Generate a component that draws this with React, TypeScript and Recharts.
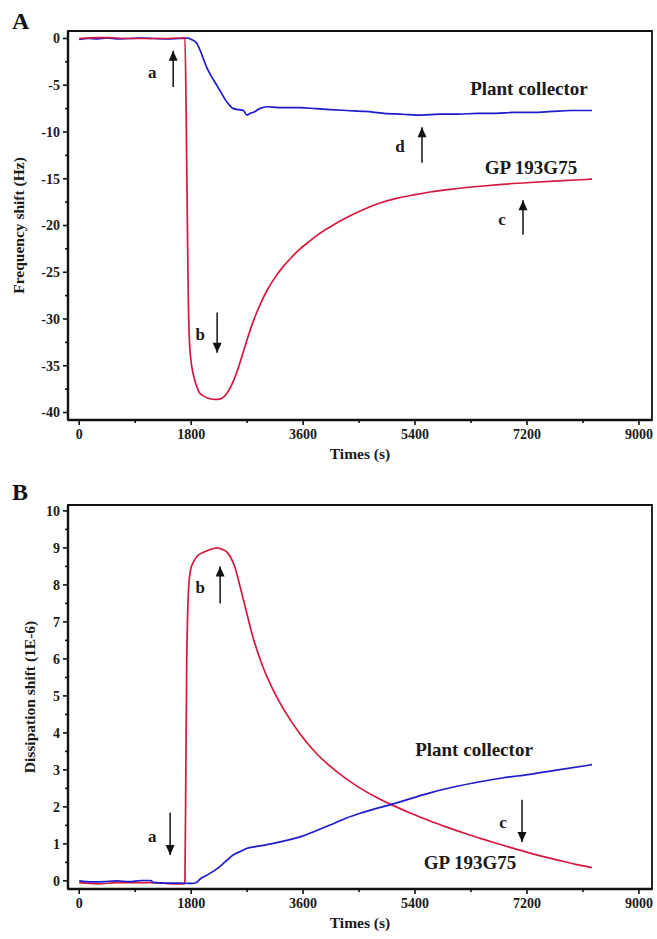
import React from 'react';
import {
  LineChart,
  Line,
  XAxis,
  YAxis,
  ReferenceArea,
  ReferenceLine,
  ReferenceDot,
} from 'recharts';

// time axis ticks (s)
const xTicks = [0, 900, 1800, 2700, 3600, 4500, 5400, 6300, 7200, 8100, 9000];
const xMajor = [0, 1800, 3600, 5400, 7200, 9000];

const freqTicks = [-40, -37.5, -35, -32.5, -30, -27.5, -25, -22.5, -20, -17.5, -15, -12.5, -10, -7.5, -5, -2.5, 0];
const freqMajor = [-40, -35, -30, -25, -20, -15, -10, -5, 0];

const dissTicks = [0, 0.5, 1, 1.5, 2, 2.5, 3, 3.5, 4, 4.5, 5, 5.5, 6, 6.5, 7, 7.5, 8, 8.5, 9, 9.5, 10];
const dissMajor = [0, 1, 2, 3, 4, 5, 6, 7, 8, 9, 10];

// A: frequency shift, plant collector
const freqPlantT = [0, 150, 300, 450, 600, 800, 1000, 1200, 1400, 1600, 1750, 1800, 1890, 1970, 2050, 2130, 2213, 2300, 2374, 2440, 2480, 2560, 2640, 2700, 2750, 2800, 2900, 3020, 3200, 3400, 3552, 3800, 4034, 4300, 4600, 4900, 5200, 5500, 5800, 6100, 6400, 6700, 7000, 7300, 7600, 7900, 8245];
const freqPlantV = [-0.1, 0, -0.05, 0.05, -0.05, 0, 0.05, 0, -0.05, 0, 0.05, -0.1, -0.5, -1.7, -3.1, -4.1, -5.0, -6.0, -6.8, -7.3, -7.5, -7.6, -7.7, -8.2, -8.0, -7.9, -7.5, -7.3, -7.4, -7.4, -7.4, -7.5, -7.6, -7.7, -7.8, -8.0, -8.1, -8.2, -8.1, -8.1, -8.0, -8.0, -7.9, -7.9, -7.8, -7.7, -7.7];

// A: frequency shift, GP 193G75
const freqGpT = [0, 300, 500, 700, 1000, 1400, 1650, 1700, 1720, 1740, 1755, 1765, 1780, 1800, 1830, 1860, 1890, 1925, 1990, 2060, 2150, 2218, 2300, 2370, 2440, 2500, 2560, 2620, 2700, 2780, 2861, 2940, 3020, 3150, 3279, 3400, 3552, 3700, 3825, 4034, 4300, 4600, 4837, 5100, 5400, 5641, 6000, 6445, 6800, 7248, 7700, 8245];
const freqGpV = [0, 0.1, 0.1, 0, 0, 0, 0.05, 0.1, -8, -20, -28, -31, -33.2, -34.6, -35.8, -36.6, -37.2, -37.8, -38.2, -38.45, -38.58, -38.6, -38.45, -38.0, -37.2, -36.3, -35.2, -33.9, -32.2, -30.6, -29.2, -28.0, -26.95, -25.55, -24.4, -23.5, -22.5, -21.7, -21.05, -20.15, -19.15, -18.2, -17.6, -17.1, -16.7, -16.42, -16.1, -15.8, -15.6, -15.4, -15.23, -15.05];

// B: dissipation shift, plant collector
const dissPlantT = [0, 200, 400, 600, 800, 1000, 1150, 1200, 1400, 1600, 1800, 1880, 1945, 2050, 2218, 2350, 2475, 2600, 2700, 2850, 3020, 3300, 3552, 3800, 4034, 4300, 4564, 5046, 5641, 6000, 6445, 6800, 7248, 7700, 8245];
const dissPlantV = [0, -0.03, -0.02, 0, -0.02, 0.01, 0.01, -0.05, -0.06, -0.06, -0.07, -0.05, 0.05, 0.15, 0.33, 0.52, 0.7, 0.8, 0.88, 0.93, 0.98, 1.08, 1.19, 1.35, 1.51, 1.7, 1.85, 2.08, 2.38, 2.53, 2.68, 2.78, 2.88, 3.0, 3.14];

// B: dissipation shift, GP 193G75
const dissGpT = [0, 300, 600, 900, 1200, 1500, 1690, 1700, 1715, 1730, 1745, 1760, 1790, 1830, 1900, 2000, 2100, 2218, 2300, 2380, 2430, 2500, 2588, 2700, 2800, 2950, 3118, 3300, 3552, 3800, 4034, 4300, 4564, 4800, 5046, 5341, 5641, 5900, 6171, 6450, 6718, 7000, 7248, 7500, 7778, 8000, 8245];
const dissGpV = [-0.05, -0.08, -0.05, -0.05, -0.05, -0.08, -0.08, 0, 3, 6, 7.3, 7.9, 8.4, 8.6, 8.78, 8.88, 8.95, 9.0, 8.96, 8.88, 8.76, 8.5, 7.95, 7.2, 6.55, 5.8, 5.16, 4.6, 3.97, 3.47, 3.1, 2.75, 2.46, 2.24, 2.04, 1.82, 1.62, 1.46, 1.3, 1.15, 1.01, 0.87, 0.75, 0.64, 0.53, 0.44, 0.36];

const toRows = (ts: number[], vs: number[]) => ts.map((t, i) => ({ t, v: vs[i] }));

const freqArrows = [
  { t: 1511, from: -5.2, to: -1.3 },
  { t: 2218, from: -29.3, to: -33.6 },
  { t: 5512, from: -13.3, to: -9.5 },
  { t: 7136, from: -21, to: -17.3 },
];
const freqNotes = [
  { text: 'a', t: 1173, v: -3.6, size: 17 },
  { text: 'b', t: 1945, v: -31.7, size: 17 },
  { text: 'd', t: 5159, v: -11.6, size: 17 },
  { text: 'c', t: 6798, v: -19.4, size: 17 },
  { text: 'Plant collector', t: 7232, v: -5.3, size: 19 },
  { text: 'GP 193G75', t: 7264, v: -13.8, size: 19 },
];

const dissArrows = [
  { t: 1462, from: 1.84, to: 0.7 },
  { t: 2266, from: 7.5, to: 8.5 },
  { t: 7120, from: 2.19, to: 1.05 },
];
const dissNotes = [
  { text: 'a', t: 1173, v: 1.19, size: 17 },
  { text: 'b', t: 1945, v: 7.92, size: 17 },
  { text: 'c', t: 6814, v: 1.57, size: 17 },
  { text: 'Plant collector', t: 6348, v: 3.54, size: 19 },
  { text: 'GP 193G75', t: 6284, v: 0.49, size: 19 },
];

const BLUE = '#1c1ccc';
const RED = '#d6183c';
const INK = '#111';
const FONT = '"Liberation Serif", "Times New Roman", serif';
const X_DOMAIN: [number, number] = [-180, 9210];

const tickStyle = { fontFamily: FONT, fontWeight: 700, fontSize: 14, fill: '#1a1a1a' };

const XTick = (props: any) => {
  const { x, y, payload } = props;
  const major = xMajor.includes(payload.value);
  const axisY = y - 8;
  return (
    <g>
      <line x1={x} x2={x} y1={axisY} y2={axisY + (major ? 5 : 3)} stroke={INK} strokeWidth={1.6} />
      {major && (
        <text x={x} y={axisY + 8} dy="0.75em" textAnchor="middle" style={tickStyle}>
          {payload.value}
        </text>
      )}
    </g>
  );
};

const makeYTick = (majors: number[]) => (props: any) => {
  const { x, y, payload } = props;
  const major = majors.includes(payload.value);
  const axisX = x + 8;
  return (
    <g>
      <line x1={axisX - (major ? 5 : 3)} x2={axisX} y1={y} y2={y} stroke={INK} strokeWidth={1.6} />
      {major && (
        <text x={axisX - 8} y={y} dy="0.35em" textAnchor="end" style={tickStyle}>
          {payload.value}
        </text>
      )}
    </g>
  );
};

const yTitle = (text: string, cx: number) => (props: any) => {
  const { y, height } = props.viewBox;
  const cy = y + height / 2;
  return (
    <text
      x={cx}
      y={cy}
      transform={`rotate(-90 ${cx} ${cy})`}
      textAnchor="middle"
      dominantBaseline="central"
      style={{ fontFamily: FONT, fontWeight: 700, fontSize: 15.5, fill: '#1a1a1a' }}
    >
      {text}
    </text>
  );
};

const xTitle = (props: any) => {
  const { x, y, width, height } = props.viewBox;
  return (
    <text
      x={x + width / 2}
      y={y + height - 1}
      textAnchor="middle"
      style={{ fontFamily: FONT, fontWeight: 700, fontSize: 15.5, fill: '#1a1a1a' }}
    >
      Times (s)
    </text>
  );
};

const arrowHead = (up: boolean) => (p: any) => {
  const { cx, cy } = p;
  const d = up ? 10 : -10;
  return <polygon points={`${cx},${cy} ${cx - 4.5},${cy + d} ${cx + 4.5},${cy + d}`} fill={INK} />;
};

const noteText = (text: string, size: number) => (p: any) => (
  <text
    x={p.cx}
    y={p.cy}
    textAnchor="middle"
    dominantBaseline="central"
    style={{ fontFamily: FONT, fontWeight: 700, fontSize: size, fill: '#1a1a1a' }}
  >
    {text}
  </text>
);

function Panel({ yDomain, ticks, majors, title, titleX, top, height, series, arrows, notes }: any) {
  return (
    <LineChart width={657} height={height} margin={{ top, right: 5, bottom: 10, left: 0 }}>
      <XAxis
        dataKey="t"
        type="number"
        domain={X_DOMAIN}
        ticks={xTicks}
        interval={0}
        tick={<XTick />}
        tickLine={false}
        axisLine={{ stroke: INK, strokeWidth: 2.4 }}
        tickSize={6}
        tickMargin={2}
        height={40}
        label={{ content: xTitle }}
      />
      <YAxis
        type="number"
        domain={yDomain}
        ticks={ticks}
        interval={0}
        tick={makeYTick(majors)}
        tickLine={false}
        axisLine={{ stroke: INK, strokeWidth: 2.4 }}
        tickSize={6}
        tickMargin={2}
        width={68}
        label={{ content: yTitle(title, titleX) }}
      />
      <ReferenceArea
        x1={X_DOMAIN[0]}
        x2={X_DOMAIN[1]}
        y1={yDomain[0]}
        y2={yDomain[1]}
        fill="none"
        stroke={INK}
        strokeWidth={1.8}
      />
      {series.map((s: any) => (
        <Line
          key={s.name}
          name={s.name}
          data={s.data}
          dataKey="v"
          type="monotone"
          stroke={s.color}
          strokeWidth={1.7}
          dot={false}
          isAnimationActive={false}
        />
      ))}
      {arrows.map((a: any, i: number) => (
        <ReferenceLine
          key={`al${i}`}
          segment={[{ x: a.t, y: a.from }, { x: a.t, y: a.to }]}
          stroke={INK}
          strokeWidth={1.5}
        />
      ))}
      {arrows.map((a: any, i: number) => (
        <ReferenceDot key={`ah${i}`} x={a.t} y={a.to} r={0} shape={arrowHead(a.to > a.from)} />
      ))}
      {notes.map((n: any, i: number) => (
        <ReferenceDot key={`n${i}`} x={n.t} y={n.v} r={0} shape={noteText(n.text, n.size)} />
      ))}
    </LineChart>
  );
}

export default function App() {
  const letter = { position: 'absolute' as const, fontFamily: FONT, fontWeight: 700, fontSize: 24, color: '#111', lineHeight: 1 };
  return (
    <div style={{ position: 'absolute', left: 0, top: 0, width: 657, height: 939, background: '#fff', overflow: 'hidden' }}>
      <div style={{ position: 'absolute', left: 0, top: 0, width: 657, height: 470 }}>
        <Panel
          yDomain={[-40.8, 0.8]}
          ticks={freqTicks}
          majors={freqMajor}
          title="Frequency shift (Hz)"
          titleX={18}
          top={31}
          height={470}
          series={[
            { name: 'Plant collector', data: toRows(freqPlantT, freqPlantV), color: BLUE },
            { name: 'GP 193G75', data: toRows(freqGpT, freqGpV), color: RED },
          ]}
          arrows={freqArrows}
          notes={freqNotes}
        />
      </div>
      <div style={{ position: 'absolute', left: 0, top: 470, width: 657, height: 469 }}>
        <Panel
          yDomain={[-0.22, 10.16]}
          ticks={dissTicks}
          majors={dissMajor}
          title="Dissipation shift (1E-6)"
          titleX={29}
          top={35}
          height={469}
          series={[
            { name: 'GP 193G75', data: toRows(dissGpT, dissGpV), color: RED },
            { name: 'Plant collector', data: toRows(dissPlantT, dissPlantV), color: BLUE },
          ]}
          arrows={dissArrows}
          notes={dissNotes}
        />
      </div>
      <div style={{ ...letter, left: 12, top: 9 }}>A</div>
      <div style={{ ...letter, left: 12, top: 480 }}>B</div>
    </div>
  );
}
